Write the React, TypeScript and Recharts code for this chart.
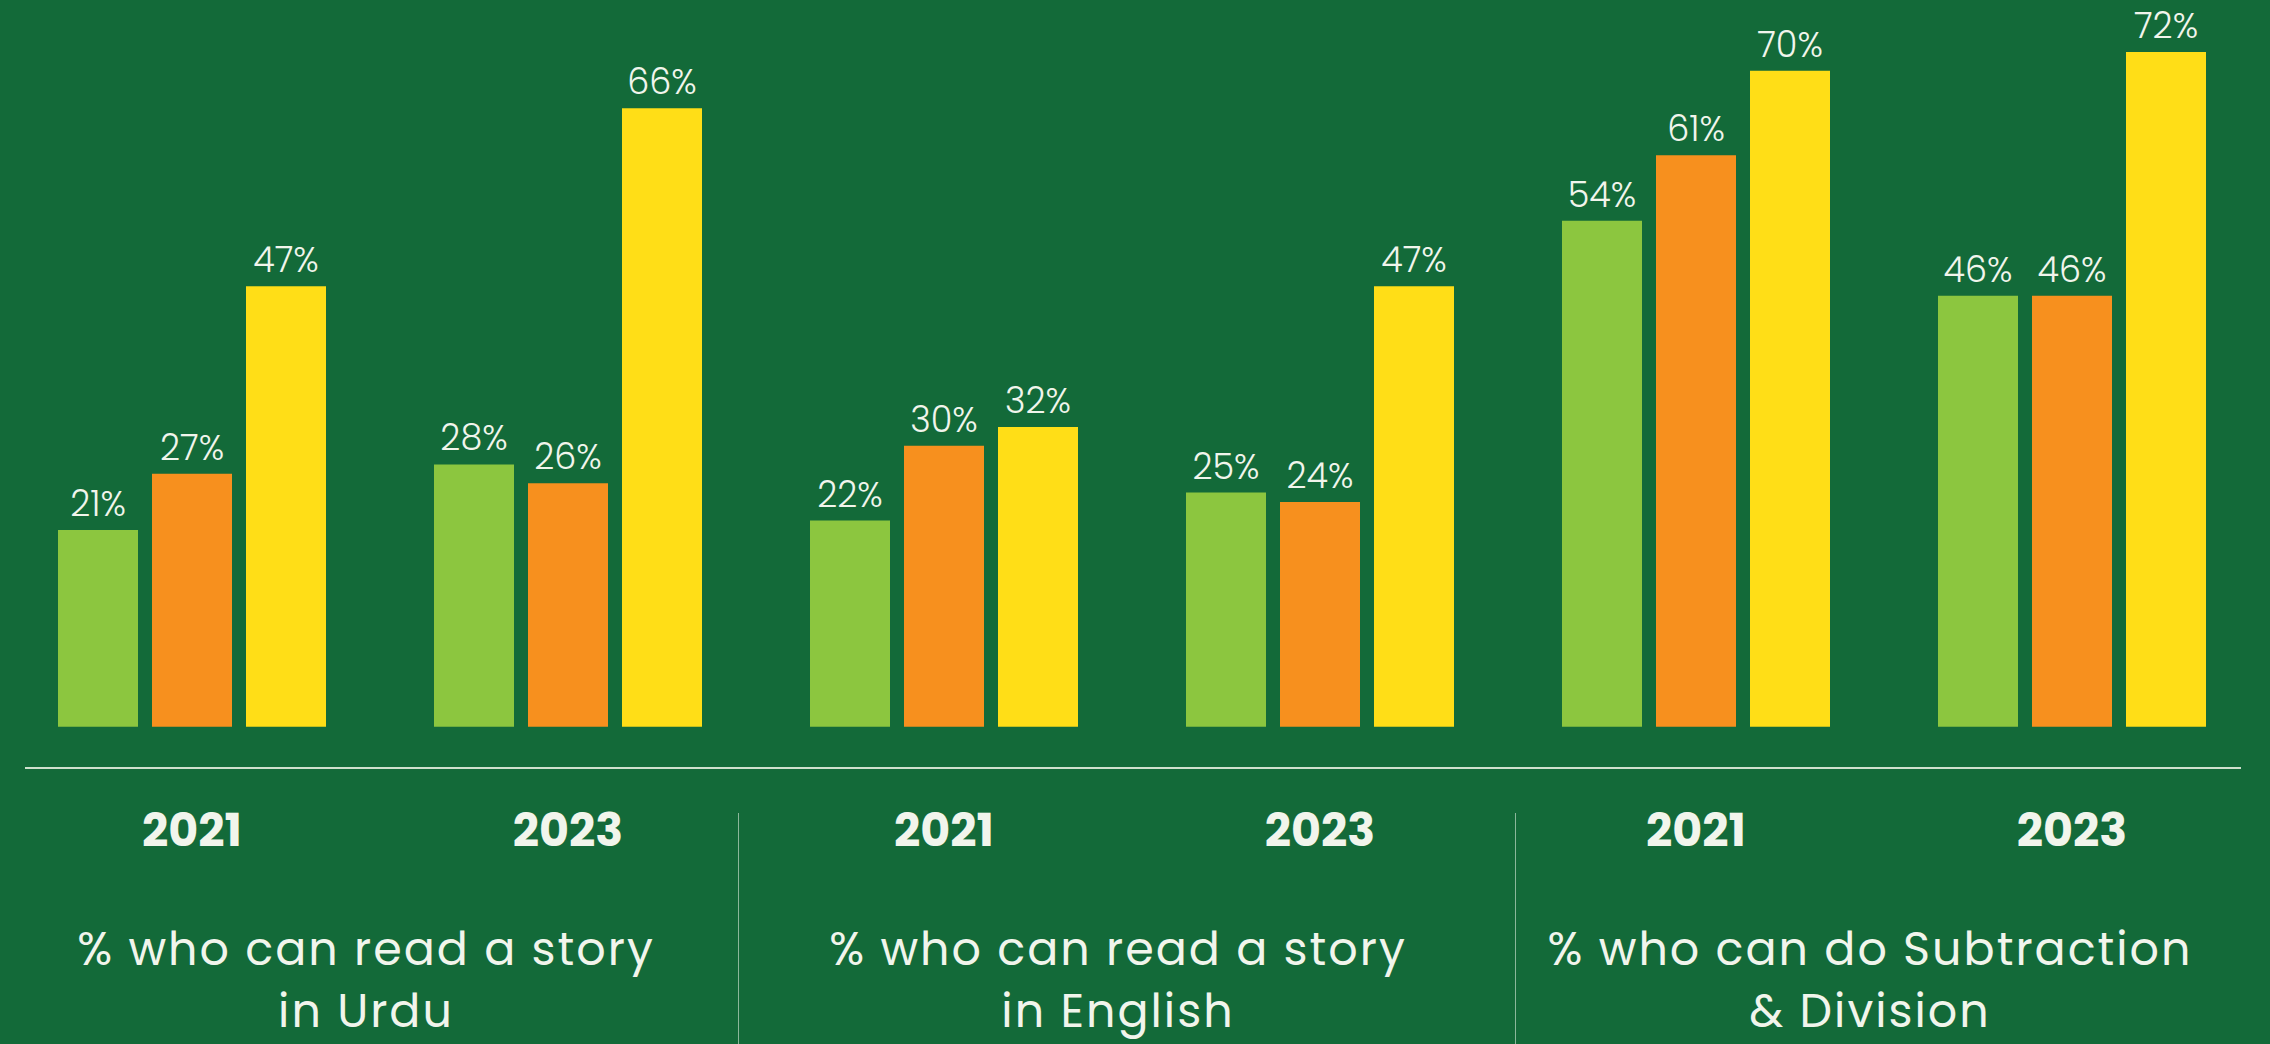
import React from "react";
import { BarChart, Bar, XAxis, YAxis, LabelList } from "recharts";

// Year under each bar group
const YEARS = ["2021", "2023", "2021", "2023", "2021", "2023"];

// One topic per pair of year groups, already split into its two lines
const TOPICS: [string, string][] = [
  ["% who can read a story", "in Urdu"],
  ["% who can read a story", "in English"],
  ["% who can do Subtraction", "& Division"],
];

// Three series per group, in percent
const GREEN_VALUES = [21, 28, 22, 25, 54, 46];
const ORANGE_VALUES = [27, 26, 30, 24, 61, 46];
const YELLOW_VALUES = [47, 66, 32, 47, 70, 72];

const data = YEARS.map((year, i) => ({
  key: `${year}-${i}`,
  year,
  green: GREEN_VALUES[i],
  orange: ORANGE_VALUES[i],
  yellow: YELLOW_VALUES[i],
}));

const WIDTH = 2270;
const HEIGHT = 1044;
const X_AXIS_H = 30;
const MARGIN = { top: 24, right: 10, bottom: 276 - X_AXIS_H, left: 4 };
const BAND = (WIDTH - MARGIN.left - MARGIN.right) / YEARS.length;
const BASELINE_Y = HEIGHT - 276;
const DIVIDER_X = [738, 1515];

const BG = "#136a39";
const TEXT = "#f1f5ec";
const FONT = "Poppins, Inter, 'Noto Sans', sans-serif";

function YearTick(props: any) {
  const { x, y, index } = props;
  return (
    <text
      x={x}
      y={y}
      dy={70}
      textAnchor="middle"
      fill={TEXT}
      fontSize={46}
      fontWeight={700}
      fontFamily={FONT}
    >
      {YEARS[index]}
    </text>
  );
}

const pct = (v: any) => `${v}%`;

const labelProps = {
  position: "top" as const,
  offset: 14,
  formatter: pct,
  fill: TEXT,
  fontSize: 35,
  fontWeight: 300,
  fontFamily: FONT,
};

export default function App() {
  return (
    <div
      style={{
        position: "relative",
        width: WIDTH,
        height: HEIGHT,
        background: BG,
        overflow: "hidden",
        fontFamily: FONT,
      }}
    >
      <style>{"body{margin:0}"}</style>
      <BarChart
        width={WIDTH}
        height={HEIGHT}
        data={data}
        margin={MARGIN}
        barSize={80}
        barGap={14}
      >
        <XAxis
          dataKey="key"
          height={X_AXIS_H}
          tick={YearTick}
          tickLine={false}
          axisLine={false}
          interval={0}
        />
        <YAxis hide domain={[-4.4, 75]} />
        <Bar dataKey="green" fill="#8cc63f" isAnimationActive={false}>
          <LabelList dataKey="green" {...labelProps} />
        </Bar>
        <Bar dataKey="orange" fill="#f7901e" isAnimationActive={false}>
          <LabelList dataKey="orange" {...labelProps} />
        </Bar>
        <Bar dataKey="yellow" fill="#ffde17" isAnimationActive={false}>
          <LabelList dataKey="yellow" {...labelProps} />
        </Bar>
      </BarChart>

      {/* baseline rule under the bars */}
      <div
        style={{
          position: "absolute",
          left: 25,
          width: 2216,
          top: BASELINE_Y - 1,
          height: 2,
          background: "#cfe1cd",
        }}
      />

      {/* vertical dividers between topics */}
      {DIVIDER_X.map((x, i) => (
        <div
          key={`sep-${i}`}
          style={{
            position: "absolute",
            left: x,
            top: 813,
            width: 1,
            height: HEIGHT - 813,
            background: "rgba(220,235,220,0.6)",
          }}
        />
      ))}

      {/* topic captions */}
      {TOPICS.map((lines, i) => (
        <div
          key={`topic-${i}`}
          style={{
            position: "absolute",
            left: MARGIN.left + BAND * 2 * i - 14,
            width: BAND * 2,
            top: 918,
            textAlign: "center",
            color: TEXT,
            fontSize: 46,
            letterSpacing: 2,
            lineHeight: "62px",
            fontWeight: 400,
            whiteSpace: "nowrap",
          }}
        >
          <div>{lines[0]}</div>
          <div>{lines[1]}</div>
        </div>
      ))}
    </div>
  );
}
